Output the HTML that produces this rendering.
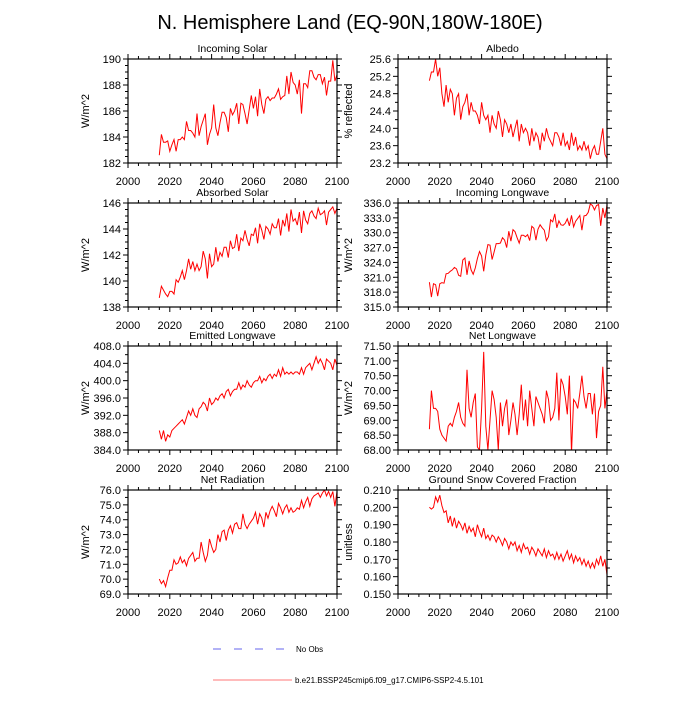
<!DOCTYPE html>
<html><head><meta charset="utf-8"><style>
body{margin:0;background:#fff;}
svg text{font-family:"Liberation Sans",sans-serif;fill:#000;}
</style></head><body>
<svg id="chart" width="700" height="700" viewBox="0 0 700 700">
<text x="350" y="29" font-size="20" text-anchor="middle">N. Hemisphere Land (EQ-90N,180W-180E)</text>
<g id="panels"></g>
<g>
<line x1="213" y1="649" x2="287" y2="649" stroke="#6666ee" stroke-dasharray="8,13"/>
<text x="296" y="652" font-size="8">No Obs</text>
<line x1="213" y1="680" x2="292" y2="680" stroke="#ff7777"/>
<text x="295" y="683" font-size="8">b.e21.BSSP245cmip6.f09_g17.CMIP6-SSP2-4.5.101</text>
</g>
</svg>
<script>
const startYear = 2015;
const xTicks = [2000, 2020, 2040, 2060, 2080, 2100];
const incomingSolar = [182.6,184.2,183.6,183.6,183.7,182.9,183.4,183.8,182.9,183.8,183.8,184.0,183.8,185.2,184.5,184.5,184.3,184.0,185.8,184.1,184.8,185.3,185.8,183.4,184.2,184.7,186.5,184.7,184.1,185.1,185.9,185.9,185.5,184.4,186.2,185.7,186.0,186.6,185.0,186.6,186.5,185.8,185.0,186.1,187.2,186.2,187.1,185.6,187.7,186.5,185.8,186.9,187.1,186.8,187.0,187.0,187.3,187.7,186.9,187.1,187.2,188.7,187.3,189.0,188.2,188.0,187.3,188.4,185.8,188.1,188.1,187.8,189.1,189.1,188.6,188.4,188.8,188.8,188.1,188.6,187.2,188.3,188.3,189.9,188.3,188.8];
const albedo = [25.1,25.3,25.3,25.6,25.2,25.4,24.8,24.5,25.0,24.6,24.9,24.8,24.3,24.7,24.8,24.2,24.5,24.6,24.8,24.3,24.6,24.4,24.4,24.3,24.1,24.6,24.3,24.2,24.3,23.9,24.3,24.1,24.0,24.4,24.2,23.8,24.2,24.1,23.9,24.1,23.8,24.0,24.2,23.7,24.1,23.9,24.0,23.9,23.6,24.0,23.7,23.9,23.8,23.5,23.9,23.7,24.0,23.8,23.7,23.6,23.9,23.9,23.8,23.6,23.9,23.6,23.7,23.5,23.9,23.6,23.8,23.5,23.6,23.5,23.7,23.5,23.6,23.3,23.5,23.6,23.4,23.4,23.7,24.0,23.4,23.3];
const absorbedSolar = [138.7,139.6,139.3,139.0,138.8,139.2,139.2,139.0,140.1,139.9,140.3,140.8,140.1,140.8,141.7,140.9,141.5,140.8,141.3,140.8,141.1,142.3,141.7,140.2,142.1,141.1,141.3,142.6,141.5,142.2,141.9,142.6,142.6,141.8,143.1,142.5,142.6,143.6,142.3,143.3,143.1,143.9,143.2,142.7,143.6,143.5,144.1,142.9,144.4,143.9,143.2,144.2,144.0,143.6,144.4,144.1,144.1,144.8,143.5,144.7,144.2,145.2,143.8,145.5,144.6,144.8,144.3,145.3,143.7,145.4,144.7,144.4,145.2,145.4,145.0,144.8,145.6,145.1,145.2,145.4,144.3,145.3,145.5,145.7,145.2,145.6];
const incomingLongwave = [320.0,317.0,319.7,319.5,317.2,319.7,319.9,319.8,321.7,321.8,322.2,322.5,323.0,322.7,321.4,321.2,324.5,324.9,321.5,324.3,322.5,321.6,322.9,324.8,326.2,325.3,322.2,325.5,327.6,327.5,324.6,326.1,327.8,327.8,327.9,329.0,328.5,327.0,330.3,328.3,330.6,330.2,329.0,327.9,329.5,329.5,329.2,329.6,328.4,331.3,330.9,328.5,330.7,331.6,331.0,330.5,328.4,329.2,332.6,332.2,333.8,331.0,332.4,331.6,331.5,331.9,332.8,331.4,333.5,331.2,332.3,332.9,333.5,330.5,333.4,333.5,334.1,335.8,335.5,334.6,335.5,335.7,331.4,335.0,333.0,335.6];
const emittedLongwave = [388.5,386.5,388.5,386.0,387.5,387.0,388.5,389.0,389.5,390.0,390.5,391.0,390.0,391.5,393.0,392.0,393.5,392.0,391.5,393.5,394.0,395.0,394.5,393.0,396.0,394.5,395.0,396.0,395.5,396.5,397.0,396.0,397.5,398.0,396.5,397.5,398.0,398.0,399.5,398.0,399.0,398.5,400.0,399.0,398.5,399.5,400.0,400.0,401.0,399.5,400.5,400.0,401.0,401.5,400.5,401.5,401.0,402.5,401.0,403.0,401.5,402.0,401.5,402.0,401.5,402.0,402.0,401.5,403.0,401.5,403.0,403.5,404.0,402.5,404.0,405.5,404.0,405.0,404.0,402.5,405.0,404.5,404.0,402.5,405.0,403.5];
const netLongwave = [68.7,70.0,69.4,69.4,69.3,68.7,68.5,68.4,68.3,68.8,68.9,68.8,69.1,69.3,69.6,69.1,68.9,68.8,70.7,69.4,69.1,69.6,69.9,68.1,68.0,69.4,71.3,68.8,68.0,69.0,70.0,69.7,69.1,68.0,69.6,68.8,69.4,69.7,68.5,69.0,69.6,69.2,68.5,69.2,70.2,69.0,69.7,68.8,70.0,69.4,68.8,69.8,69.6,69.4,69.2,68.9,70.0,69.7,69.0,69.1,69.4,70.6,69.0,70.4,70.2,69.8,69.2,70.5,67.9,69.7,69.6,69.4,69.9,70.5,69.8,69.4,69.9,69.9,69.2,69.9,68.4,69.3,69.5,70.8,69.4,70.0];
const netRadiation = [70.0,69.7,69.9,69.5,70.1,70.6,70.6,71.3,71.0,71.1,71.5,71.1,71.3,70.9,71.4,71.6,71.8,71.2,71.4,71.4,72.5,71.8,71.2,71.6,72.7,72.2,71.8,72.0,73.0,72.5,73.2,73.3,72.6,73.3,73.6,73.1,73.7,73.8,73.4,73.4,74.4,73.7,73.4,73.7,73.9,74.1,74.5,73.7,74.4,74.1,73.5,74.5,74.1,74.6,74.9,74.6,74.2,75.1,74.8,74.4,74.8,75.0,74.5,74.8,74.5,74.6,74.8,74.7,75.3,74.8,75.2,75.5,74.9,75.4,75.6,75.7,75.8,75.5,75.8,76.0,75.6,75.9,75.5,75.9,74.9,75.9];
const snowFraction = [0.200,0.199,0.200,0.206,0.203,0.207,0.201,0.197,0.198,0.191,0.195,0.189,0.194,0.188,0.192,0.190,0.187,0.191,0.185,0.189,0.186,0.188,0.183,0.190,0.186,0.183,0.188,0.182,0.184,0.181,0.184,0.183,0.180,0.183,0.181,0.178,0.182,0.180,0.176,0.180,0.178,0.180,0.175,0.178,0.174,0.179,0.176,0.177,0.173,0.177,0.175,0.172,0.176,0.174,0.172,0.176,0.171,0.175,0.172,0.173,0.170,0.174,0.170,0.173,0.169,0.172,0.175,0.170,0.173,0.168,0.172,0.169,0.171,0.167,0.170,0.166,0.169,0.165,0.168,0.165,0.170,0.167,0.172,0.166,0.170,0.161];
const ticksSolar = [182,184,186,188,190];
const ticksAlbedo = [23.2,23.6,24.0,24.4,24.8,25.2,25.6];
const ticksAbsorbed = [138,140,142,144,146];
const ticksInLW = [315,318,321,324,327,330,333,336];
const ticksEmLW = [384,388,392,396,400,404,408];
const ticksNetLW = [68.0,68.5,69.0,69.5,70.0,70.5,71.0,71.5];
const ticksNetRad = [69,70,71,72,73,74,75,76];
const ticksSnow = [0.150,0.160,0.170,0.180,0.190,0.200,0.210];

const panels = [
 {name:'incoming-solar',title:'Incoming Solar',unit:'W/m^2',data:incomingSolar,ticks:ticksSolar,dec:0,col:0,row:0,minor:4},
 {name:'albedo',title:'Albedo',unit:'% reflected',data:albedo,ticks:ticksAlbedo,dec:1,col:1,row:0,minor:2},
 {name:'absorbed-solar',title:'Absorbed Solar',unit:'W/m^2',data:absorbedSolar,ticks:ticksAbsorbed,dec:0,col:0,row:1,minor:4},
 {name:'incoming-longwave',title:'Incoming Longwave',unit:'W/m^2',data:incomingLongwave,ticks:ticksInLW,dec:1,col:1,row:1,minor:3},
 {name:'emitted-longwave',title:'Emitted Longwave',unit:'W/m^2',data:emittedLongwave,ticks:ticksEmLW,dec:1,col:0,row:2,minor:2},
 {name:'net-longwave',title:'Net Longwave',unit:'W/m^2',data:netLongwave,ticks:ticksNetLW,dec:2,col:1,row:2,minor:2},
 {name:'net-radiation',title:'Net Radiation',unit:'W/m^2',data:netRadiation,ticks:ticksNetRad,dec:1,col:0,row:3,minor:2},
 {name:'ground-snow',title:'Ground Snow Covered Fraction',unit:'unitless',data:snowFraction,ticks:ticksSnow,dec:3,col:1,row:3,minor:2}
];
const NS='http://www.w3.org/2000/svg';
const root=document.getElementById('panels');
const colX=[128,398], rowY=[59,203,346,490], W=209, H=104;
function mk(tag,attrs,parent){const e=document.createElementNS(NS,tag);for(const k in attrs)e.setAttribute(k,attrs[k]);parent.appendChild(e);return e;}
panels.forEach((p,pi)=>{
 const x0=colX[p.col], y0=rowY[p.row];
 const ymin=p.ticks[0], ymax=p.ticks[p.ticks.length-1];
 const xs=v=>x0+(v-2000)/100*W;
 const ys=v=>y0+H-(v-ymin)/(ymax-ymin)*H;
 const g=mk('g',{},root);
 
 
 const t=mk('text',{x:x0+W/2,y:y0-7,'font-size':10.5,'text-anchor':'middle'},g);
 t.textContent=p.title;
 
 
 const yt=mk('text',{x:0,y:0,'font-size':11,'text-anchor':'middle',transform:`translate(${p.col?352:89},${y0+H/2}) rotate(-90)`},g);
 yt.textContent=p.unit;
 
 
 const step=p.ticks[1]-p.ticks[0];
 for(let i=0;i<p.ticks.length;i++){
  const v=p.ticks[i], yy=ys(v);
  mk('line',{x1:x0-5,y1:yy,x2:x0,y2:yy,stroke:'#000'},g);
  mk('line',{x1:x0+W,y1:yy,x2:x0+W+5,y2:yy,stroke:'#000'},g);
  const lb=mk('text',{x:x0-7,y:yy+4,'font-size':11,'text-anchor':'end'},g);
  lb.textContent=v.toFixed(p.dec);
  
  
  if(i<p.ticks.length-1){for(let m=1;m<p.minor;m++){const my=ys(v+step*m/p.minor);
   mk('line',{x1:x0-3,y1:my,x2:x0,y2:my,stroke:'#000'},g);
   mk('line',{x1:x0+W,y1:my,x2:x0+W+3,y2:my,stroke:'#000'},g);}}
 }
 for(let i=0;i<xTicks.length;i++){
  const v=xTicks[i], xx=xs(v);
  mk('line',{x1:xx,y1:y0+H,x2:xx,y2:y0+H+5,stroke:'#000'},g);
  mk('line',{x1:xx,y1:y0-5,x2:xx,y2:y0,stroke:'#000'},g);
  const lb=mk('text',{x:xx,y:y0+H+22,'font-size':11,'text-anchor':'middle'},g);
  lb.textContent=v;
  
  
  if(i<xTicks.length-1){for(let m=1;m<4;m++){const mx=xs(v+5*m);
   mk('line',{x1:mx,y1:y0+H,x2:mx,y2:y0+H+3,stroke:'#000'},g);
   mk('line',{x1:mx,y1:y0-3,x2:mx,y2:y0,stroke:'#000'},g);}}
 }
 const cp=mk('clipPath',{id:'clip'+pi},g);
 mk('rect',{x:x0,y:y0,width:W,height:H},cp);
 const pts=p.data.map((v,i)=>xs(startYear+i).toFixed(1)+','+ys(v).toFixed(1)).join(' ');
 const line=mk('polyline',{points:pts,fill:'none',stroke:'#ff0000','stroke-width':1,'clip-path':`url(#clip${pi})`},g);
 
 
 const fr=mk('rect',{x:x0,y:y0,width:W,height:H,fill:'none',stroke:'#000','stroke-width':1.2},g);
 
 
});
</script>
</body></html>
